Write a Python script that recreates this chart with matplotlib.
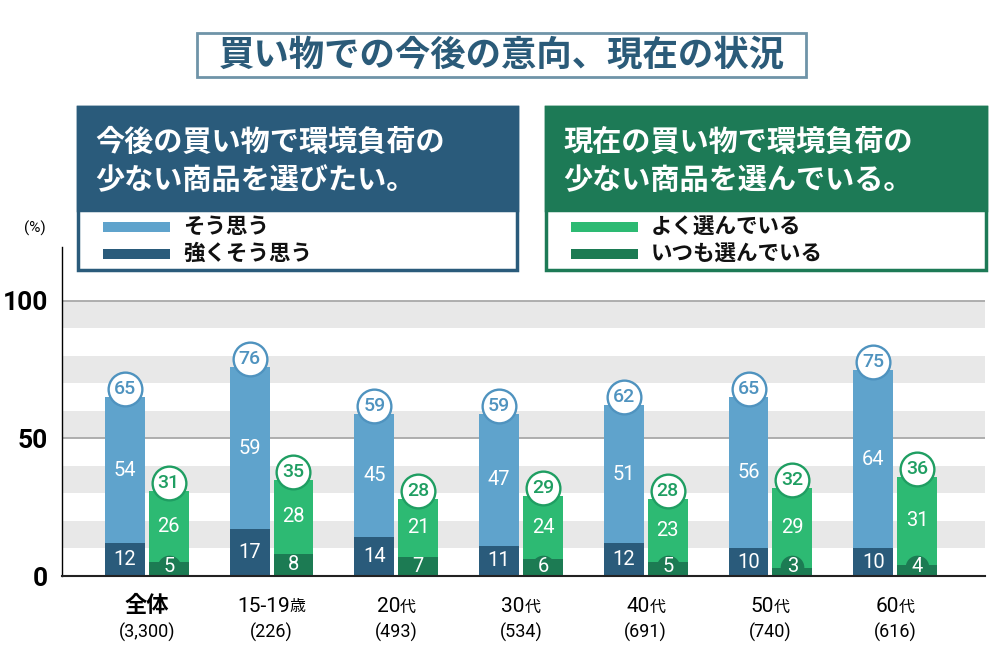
import matplotlib
matplotlib.use("Agg")
import matplotlib.pyplot as plt
import matplotlib.transforms as mtrans
from matplotlib.patches import Rectangle
from matplotlib.offsetbox import TextArea, HPacker, AnnotationBbox

plt.rcParams['font.family'] = ['Noto Sans CJK JP', 'DejaVu Sans']

# ---- data ----
cat_main = ['全体', '15-19', '20', '30', '40', '50', '60']
cat_suffix = ['', '歳', '代', '代', '代', '代', '代']
counts = ['(3,300)', '(226)', '(493)', '(534)', '(691)', '(740)', '(616)']
blue_total = [65, 76, 59, 59, 62, 65, 75]
blue_strong = [12, 17, 14, 11, 12, 10, 10]
blue_some = [54, 59, 45, 47, 51, 56, 64]
green_total = [31, 35, 28, 29, 28, 32, 36]
green_always = [5, 8, 7, 6, 5, 3, 4]
green_often = [26, 28, 21, 24, 23, 29, 31]
yticks = [0, 50, 100]

title = '買い物での今後の意向、現在の状況'
blue_header = ['今後の買い物で環境負荷の', '少ない商品を選びたい。']
green_header = ['現在の買い物で環境負荷の', '少ない商品を選んでいる。']
blue_legend = ['そう思う', '強くそう思う']
green_legend = ['よく選んでいる', 'いつも選んでいる']

# ---- colours ----
C_LB = '#5fa3cc'
C_DB = '#2a5b7b'
C_LG = '#2dba73'
C_DG = '#1c7b53'
C_BTXT = '#4f93bf'
C_GTXT = '#1f9e62'
C_TITLE = '#2b5b79'
C_STRIPE = '#e8e8e8'

W, H = 1000, 667
fig = plt.figure(figsize=(10, 6.67), dpi=100)


def fx(x):
    return x / W


def fy(y):
    return 1 - y / H


def frect(x0, y0, x1, y1, **kw):
    r = Rectangle((fx(x0), fy(y1)), fx(x1) - fx(x0), fy(y0) - fy(y1),
                  transform=fig.transFigure, **kw)
    fig.add_artist(r)
    return r


ax = fig.add_axes([fx(62), fy(576), fx(985) - fx(62), fy(247) - fy(576)])
ax.set_xlim(-0.68, 6.72)
ax.set_ylim(0, 119.6)

for lo in range(10, 100, 20):
    ax.axhspan(lo, lo + 10, color=C_STRIPE, lw=0, zorder=0)
for yv in (50, 100):
    ax.axhline(yv, color='#a8a8a8', lw=1.3, zorder=1)

n = len(cat_main)
xs = list(range(n))
off = 0.176
bw = 0.32
xb = [x - off for x in xs]
xg = [x + off for x in xs]

blue_light_h = [t - s for t, s in zip(blue_total, blue_strong)]
green_light_h = [t - s for t, s in zip(green_total, green_always)]

ax.bar(xb, blue_strong, width=bw, color=C_DB, zorder=2)
ax.bar(xb, blue_light_h, bottom=blue_strong, width=bw, color=C_LB, zorder=2)
ax.bar(xg, green_always, width=bw, color=C_DG, zorder=2)
ax.bar(xg, green_light_h, bottom=green_always, width=bw, color=C_LG, zorder=2)

num_font = dict(family=['Roboto', 'DejaVu Sans'])

# badges
ax.scatter(xb, [t + 2.9 for t in blue_total], s=590, facecolor='white',
           edgecolor=C_BTXT, linewidth=1.7, zorder=4, clip_on=False)
ax.scatter(xg, [t + 2.9 for t in green_total], s=590, facecolor='white',
           edgecolor=C_GTXT, linewidth=1.7, zorder=4, clip_on=False)
for x, t in zip(xb, blue_total):
    ax.text(x, t + 2.9, str(t), ha='center', va='center', color=C_BTXT,
            fontsize=14, fontweight='medium', zorder=5, **num_font)
for x, t in zip(xg, green_total):
    ax.text(x, t + 2.9, str(t), ha='center', va='center', color=C_GTXT,
            fontsize=14, fontweight='medium', zorder=5, **num_font)

# inner labels
for x, s, lv, t in zip(xb, blue_strong, blue_some, blue_total):
    ax.text(x, (s + t) / 2, str(lv), ha='center', va='center', color='white',
            fontsize=14.5, zorder=5, **num_font)
    ax.text(x, max(s / 2, 3.4), str(s), ha='center', va='center', color='white',
            fontsize=14.5, zorder=5, **num_font)
for x, s, lv, t in zip(xg, green_always, green_often, green_total):
    ax.text(x, (s + t) / 2, str(lv), ha='center', va='center', color='white',
            fontsize=14.5, zorder=5, **num_font)
    yl = max(s / 2, 3.3)
    if s < 7:
        ax.scatter([x], [yl], s=290, color=C_DG, lw=0, zorder=3)
    ax.text(x, yl, str(s), ha='center', va='center', color='white',
            fontsize=14.5, zorder=5, **num_font)

# axes styling
for sp in ('top', 'right'):
    ax.spines[sp].set_visible(False)
ax.spines['left'].set_color('black')
ax.spines['left'].set_linewidth(1.0)
ax.spines['bottom'].set_color('#222222')
ax.spines['bottom'].set_linewidth(1.5)
ax.spines['bottom'].set_zorder(6)
ax.set_xticks([])
ax.set_yticks(yticks)
ax.set_yticklabels([str(v) for v in yticks], fontsize=19, fontweight='bold',
                   **num_font)
ax.tick_params(axis='y', length=0, pad=10)

fig.text(fx(35), fy(228), '(%)', ha='center', va='center', fontsize=11,
         **num_font)

# category labels
blend = mtrans.blended_transform_factory(ax.transData, fig.transFigure)
for x, m, sfx, c in zip(xs, cat_main, cat_suffix, counts):
    if sfx:
        kids = [TextArea(m, textprops=dict(fontsize=15, family=['Roboto', 'Noto Sans CJK JP'])),
                TextArea(sfx, textprops=dict(fontsize=11.5, family=['Noto Sans CJK JP']))]
    else:
        kids = [TextArea(m, textprops=dict(fontsize=16, fontweight='bold'))]
    pk = HPacker(children=kids, align='baseline', pad=0, sep=0)
    ab = AnnotationBbox(pk, (x, fy(606)), xycoords=('data', 'figure fraction'),
                        box_alignment=(0.5, 0.5), frameon=False,
                        annotation_clip=False)
    ax.add_artist(ab)
    ax.text(x, fy(632), c, transform=blend, ha='center', va='center',
            fontsize=13, **num_font)

# title box
frect(197, 33, 806, 77, facecolor='white', edgecolor='#6f94a8', lw=2)
fig.text(fx(501.5), fy(55), title, ha='center', va='center', fontsize=25.5,
         fontweight='bold', color=C_TITLE)


# legend boxes
def legend_box(x0, x1, head_col, light_col, dark_col, header, items):
    frect(x0, 107, x1, 270, facecolor='white', edgecolor=head_col, lw=2.5,
          zorder=10)
    frect(x0, 107, x1, 210, facecolor=head_col, edgecolor=head_col, lw=2.5,
          zorder=10)
    fig.text(fx(x0 + 17), fy(142), header[0], ha='left', va='center',
             fontsize=21, fontweight='bold', color='white', zorder=11)
    fig.text(fx(x0 + 17), fy(180), header[1], ha='left', va='center',
             fontsize=21, fontweight='bold', color='white', zorder=11)
    frect(x0 + 25, 222, x0 + 92, 232, facecolor=light_col, lw=0, zorder=11)
    frect(x0 + 25, 249, x0 + 92, 259, facecolor=dark_col, lw=0, zorder=11)
    fig.text(fx(x0 + 105), fy(226), items[0], ha='left', va='center',
             fontsize=15.5, fontweight='bold', color='#111111', zorder=11)
    fig.text(fx(x0 + 105), fy(253), items[1], ha='left', va='center',
             fontsize=15.5, fontweight='bold', color='#111111', zorder=11)


legend_box(78, 517, C_DB, C_LB, C_DB, blue_header, blue_legend)
legend_box(546, 986, '#1d7a56', C_LG, C_DG, green_header, green_legend)

fig.savefig('out.png', dpi=100)
